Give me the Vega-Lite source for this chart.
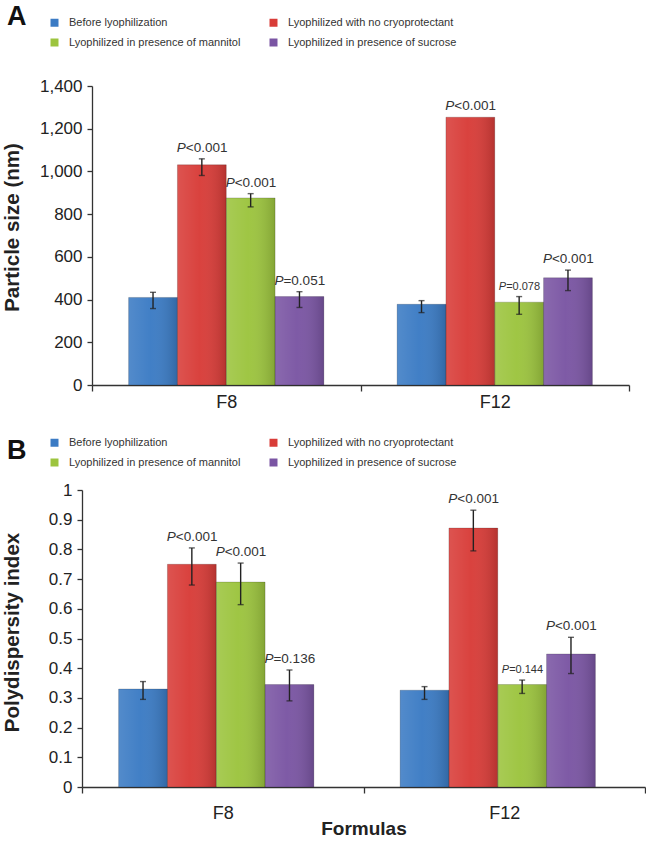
{
  "$schema": "https://vega.github.io/schema/vega-lite/v6.json",
  "padding": {"left": 2, "top": 3, "right": 0, "bottom": 0},
  "columns": 1,
  "spacing": 26,
  "config": {
    "font": "Liberation Sans",
    "view": {"stroke": null},
    "axis": {"domainColor": "#333", "tickColor": "#333", "labelColor": "#222", "titleColor": "#222", "grid": false, "domainWidth": 1.3, "tickWidth": 1.3},
    "legend": {"orient": "none", "columns": 2, "title": null, "symbolType": "square", "symbolSize": 64, "symbolStrokeWidth": 0, "labelFontSize": 11, "labelColor": "#333", "labelLimit": 400, "columnPadding": 27, "rowPadding": 8, "labelOffset": 9, "padding": 0}
  },
  "resolve": {"scale": {"color": "independent"}},
  "datasets": {
    "size": [
      {"formula": "F8", "group": "Before lyophilization", "value": 410, "lo": 358, "hi": 434, "label": null},
      {"formula": "F8", "group": "Lyophilized with no cryoprotectant", "value": 1031, "lo": 981, "hi": 1059, "label": "<0.001"},
      {"formula": "F8", "group": "Lyophilized in presence of mannitol", "value": 876, "lo": 834, "hi": 896, "label": "<0.001"},
      {"formula": "F8", "group": "Lyophilized in presence of sucrose", "value": 414, "lo": 363, "hi": 437, "label": "=0.051"},
      {"formula": "F12", "group": "Before lyophilization", "value": 378, "lo": 339, "hi": 395, "label": null},
      {"formula": "F12", "group": "Lyophilized with no cryoprotectant", "value": 1254, "lo": null, "hi": null, "label": "<0.001"},
      {"formula": "F12", "group": "Lyophilized in presence of mannitol", "value": 388, "lo": 331, "hi": 414, "label": "=0.078"},
      {"formula": "F12", "group": "Lyophilized in presence of sucrose", "value": 502, "lo": 442, "hi": 538, "label": "<0.001"}
    ],
    "pdi": [
      {"formula": "F8", "group": "Before lyophilization", "value": 0.33, "lo": 0.295, "hi": 0.355, "label": null},
      {"formula": "F8", "group": "Lyophilized with no cryoprotectant", "value": 0.75, "lo": 0.68, "hi": 0.805, "label": "<0.001"},
      {"formula": "F8", "group": "Lyophilized in presence of mannitol", "value": 0.69, "lo": 0.614, "hi": 0.754, "label": "<0.001"},
      {"formula": "F8", "group": "Lyophilized in presence of sucrose", "value": 0.345, "lo": 0.29, "hi": 0.394, "label": "=0.136"},
      {"formula": "F12", "group": "Before lyophilization", "value": 0.326, "lo": 0.295, "hi": 0.338, "label": null},
      {"formula": "F12", "group": "Lyophilized with no cryoprotectant", "value": 0.872, "lo": 0.795, "hi": 0.932, "label": "<0.001"},
      {"formula": "F12", "group": "Lyophilized in presence of mannitol", "value": 0.345, "lo": 0.315, "hi": 0.36, "label": "=0.144"},
      {"formula": "F12", "group": "Lyophilized in presence of sucrose", "value": 0.448, "lo": 0.382, "hi": 0.504, "label": "<0.001"}
    ]
  },
  "concat": [
    {
      "title": {"text": "A", "fontSize": 27, "fontWeight": "bold", "anchor": "start", "frame": "group", "dx": -75, "dy": 18, "color": "#111"},
      "width": 547,
      "height": 299,
      "data": {"name": "size"},
      "transform": [{"calculate": "isValid(datum.hi) ? datum.hi : datum.value", "as": "labY"}],
      "encoding": {
        "x": {"field": "formula", "type": "nominal", "sort": ["F8", "F12"], "scale": {"range": [10, 547], "paddingInner": 0, "paddingOuter": 0},
          "axis": {"title": null, "labelAngle": 0, "labelFontSize": 18, "tickBand": "extent", "tickSize": 6, "labelPadding": 2}},
        "xOffset": {"field": "group", "type": "nominal", "sort": ["Before lyophilization", "Lyophilized with no cryoprotectant", "Lyophilized in presence of mannitol", "Lyophilized in presence of sucrose"], "scale": {"paddingInner": 0, "paddingOuter": 0.75}}
      },
      "layer": [
        {
          "mark": {"type": "bar"},
          "encoding": {
            "y": {"field": "value", "type": "quantitative", "title": "Particle size (nm)", "scale": {"domain": [0, 1400], "nice": false},
              "axis": {"values": [0, 200, 400, 600, 800, 1000, 1200, 1400], "format": ",d", "offset": -10, "labelFontSize": 17, "tickSize": 5, "labelPadding": 5, "titleFontSize": 20.5, "titleFontWeight": "bold", "titleX": -80, "titleY": 141, "titleBaseline": "middle"}},
            "color": {"field": "group", "type": "nominal",
              "scale": {"domain": ["Before lyophilization", "Lyophilized in presence of mannitol", "Lyophilized with no cryoprotectant", "Lyophilized in presence of sucrose"], "range": ["#3B7BC4", "#9CC43E", "#D83C38", "#7A55A3"]},
              "legend": {"legendX": -33, "legendY": -69}}
          }
        },
        {
          "mark": {"type": "bar", "fill": {"gradient": "linear", "x1": 0, "x2": 1, "y1": 0, "y2": 0, "stops": [{"offset": 0, "color": "rgba(255,255,255,0.12)"}, {"offset": 0.45, "color": "rgba(255,255,255,0.03)"}, {"offset": 1, "color": "rgba(0,0,0,0.16)"}]}, "stroke": "rgba(0,0,0,0.25)", "strokeWidth": 0.7},
          "encoding": {"y": {"field": "value", "type": "quantitative", "title": "Particle size (nm)",
              "axis": {"values": [0, 200, 400, 600, 800, 1000, 1200, 1400], "format": ",d", "offset": -10, "labelFontSize": 17, "tickSize": 5, "labelPadding": 5, "titleFontSize": 20.5, "titleFontWeight": "bold", "titleX": -80, "titleY": 141, "titleBaseline": "middle"}}}
        },
        {
          "transform": [{"filter": "isValid(datum.lo)"}],
          "mark": {"type": "rule", "color": "#222", "strokeWidth": 1.4},
          "encoding": {"y": {"field": "lo", "type": "quantitative", "title": "Particle size (nm)",
              "axis": {"values": [0, 200, 400, 600, 800, 1000, 1200, 1400], "format": ",d", "offset": -10, "labelFontSize": 17, "tickSize": 5, "labelPadding": 5, "titleFontSize": 20.5, "titleFontWeight": "bold", "titleX": -80, "titleY": 141, "titleBaseline": "middle"}}, "y2": {"field": "hi"}}
        },
        {
          "transform": [{"filter": "isValid(datum.lo)"}],
          "mark": {"type": "tick", "color": "#222", "size": 6, "thickness": 1.4, "orient": "horizontal"},
          "encoding": {"y": {"field": "lo", "type": "quantitative", "title": "Particle size (nm)",
              "axis": {"values": [0, 200, 400, 600, 800, 1000, 1200, 1400], "format": ",d", "offset": -10, "labelFontSize": 17, "tickSize": 5, "labelPadding": 5, "titleFontSize": 20.5, "titleFontWeight": "bold", "titleX": -80, "titleY": 141, "titleBaseline": "middle"}}}
        },
        {
          "transform": [{"filter": "isValid(datum.lo)"}],
          "mark": {"type": "tick", "color": "#222", "size": 6, "thickness": 1.4, "orient": "horizontal"},
          "encoding": {"y": {"field": "hi", "type": "quantitative", "title": "Particle size (nm)",
              "axis": {"values": [0, 200, 400, 600, 800, 1000, 1200, 1400], "format": ",d", "offset": -10, "labelFontSize": 17, "tickSize": 5, "labelPadding": 5, "titleFontSize": 20.5, "titleFontWeight": "bold", "titleX": -80, "titleY": 141, "titleBaseline": "middle"}}}
        },
        {
          "transform": [{"filter": "isValid(datum.label) && !(datum.formula == 'F12' && datum.group == 'Lyophilized in presence of mannitol')"}],
          "mark": {"type": "text", "fontSize": 13.5, "fontStyle": "italic", "align": "right", "dx": -16, "dy": -7, "baseline": "alphabetic", "color": "#333"},
          "encoding": {"y": {"field": "labY", "type": "quantitative", "title": "Particle size (nm)",
              "axis": {"values": [0, 200, 400, 600, 800, 1000, 1200, 1400], "format": ",d", "offset": -10, "labelFontSize": 17, "tickSize": 5, "labelPadding": 5, "titleFontSize": 20.5, "titleFontWeight": "bold", "titleX": -80, "titleY": 141, "titleBaseline": "middle"}}, "text": {"value": "P"}}
        },
        {
          "transform": [{"filter": "isValid(datum.label) && !(datum.formula == 'F12' && datum.group == 'Lyophilized in presence of mannitol')"}],
          "mark": {"type": "text", "fontSize": 13.5, "align": "left", "dx": -16, "dy": -7, "baseline": "alphabetic", "color": "#333"},
          "encoding": {"y": {"field": "labY", "type": "quantitative", "title": "Particle size (nm)",
              "axis": {"values": [0, 200, 400, 600, 800, 1000, 1200, 1400], "format": ",d", "offset": -10, "labelFontSize": 17, "tickSize": 5, "labelPadding": 5, "titleFontSize": 20.5, "titleFontWeight": "bold", "titleX": -80, "titleY": 141, "titleBaseline": "middle"}}, "text": {"field": "label"}}
        },
        {
          "transform": [{"filter": "datum.formula == 'F12' && datum.group == 'Lyophilized in presence of mannitol'"}],
          "mark": {"type": "text", "fontSize": 11, "fontStyle": "italic", "align": "right", "dx": -13, "dy": -7, "baseline": "alphabetic", "color": "#333"},
          "encoding": {"y": {"field": "labY", "type": "quantitative", "title": "Particle size (nm)",
              "axis": {"values": [0, 200, 400, 600, 800, 1000, 1200, 1400], "format": ",d", "offset": -10, "labelFontSize": 17, "tickSize": 5, "labelPadding": 5, "titleFontSize": 20.5, "titleFontWeight": "bold", "titleX": -80, "titleY": 141, "titleBaseline": "middle"}}, "text": {"value": "P"}}
        },
        {
          "transform": [{"filter": "datum.formula == 'F12' && datum.group == 'Lyophilized in presence of mannitol'"}],
          "mark": {"type": "text", "fontSize": 11, "align": "left", "dx": -13, "dy": -7, "baseline": "alphabetic", "color": "#333"},
          "encoding": {"y": {"field": "labY", "type": "quantitative", "title": "Particle size (nm)",
              "axis": {"values": [0, 200, 400, 600, 800, 1000, 1200, 1400], "format": ",d", "offset": -10, "labelFontSize": 17, "tickSize": 5, "labelPadding": 5, "titleFontSize": 20.5, "titleFontWeight": "bold", "titleX": -80, "titleY": 141, "titleBaseline": "middle"}}, "text": {"field": "label"}}
        }
      ]
    },
    {
      "title": {"text": "B", "fontSize": 27, "fontWeight": "bold", "anchor": "start", "frame": "group", "dx": -75, "dy": 32, "color": "#111"},
      "width": 563,
      "height": 297,
      "data": {"name": "pdi"},
      "transform": [{"calculate": "isValid(datum.hi) ? datum.hi : datum.value", "as": "labY"}],
      "encoding": {
        "x": {"field": "formula", "type": "nominal", "sort": ["F8", "F12"], "scale": {"paddingInner": 0, "paddingOuter": 0},
          "axis": {"title": "Formulas", "titleFontSize": 19, "titleFontWeight": "bold", "titlePadding": -3, "labelAngle": 0, "labelFontSize": 18, "tickBand": "extent", "tickSize": 6, "labelPadding": 11}},
        "xOffset": {"field": "group", "type": "nominal", "sort": ["Before lyophilization", "Lyophilized with no cryoprotectant", "Lyophilized in presence of mannitol", "Lyophilized in presence of sucrose"], "scale": {"paddingInner": 0, "paddingOuter": 0.75}}
      },
      "layer": [
        {
          "mark": {"type": "bar"},
          "encoding": {
            "y": {"field": "value", "type": "quantitative", "title": "Polydispersity index", "scale": {"domain": [0, 1], "nice": false},
              "axis": {"values": [0, 0.1, 0.2, 0.3, 0.4, 0.5, 0.6, 0.7, 0.8, 0.9, 1], "format": "~g", "labelFontSize": 17, "tickSize": 5, "labelPadding": 5, "titleFontSize": 20.5, "titleFontWeight": "bold", "titleX": -70, "titleY": 142, "titleBaseline": "middle"}},
            "color": {"field": "group", "type": "nominal",
              "scale": {"domain": ["Before lyophilization", "Lyophilized in presence of mannitol", "Lyophilized with no cryoprotectant", "Lyophilized in presence of sucrose"], "range": ["#3B7BC4", "#9CC43E", "#D83C38", "#7A55A3"]},
              "legend": {"legendX": -33, "legendY": -53}}
          }
        },
        {
          "mark": {"type": "bar", "fill": {"gradient": "linear", "x1": 0, "x2": 1, "y1": 0, "y2": 0, "stops": [{"offset": 0, "color": "rgba(255,255,255,0.12)"}, {"offset": 0.45, "color": "rgba(255,255,255,0.03)"}, {"offset": 1, "color": "rgba(0,0,0,0.16)"}]}, "stroke": "rgba(0,0,0,0.25)", "strokeWidth": 0.7},
          "encoding": {"y": {"field": "value", "type": "quantitative", "title": "Polydispersity index",
              "axis": {"values": [0, 0.1, 0.2, 0.3, 0.4, 0.5, 0.6, 0.7, 0.8, 0.9, 1], "format": "~g", "labelFontSize": 17, "tickSize": 5, "labelPadding": 5, "titleFontSize": 20.5, "titleFontWeight": "bold", "titleX": -70, "titleY": 142, "titleBaseline": "middle"}}}
        },
        {
          "transform": [{"filter": "isValid(datum.lo)"}],
          "mark": {"type": "rule", "color": "#222", "strokeWidth": 1.4},
          "encoding": {"y": {"field": "lo", "type": "quantitative", "title": "Polydispersity index",
              "axis": {"values": [0, 0.1, 0.2, 0.3, 0.4, 0.5, 0.6, 0.7, 0.8, 0.9, 1], "format": "~g", "labelFontSize": 17, "tickSize": 5, "labelPadding": 5, "titleFontSize": 20.5, "titleFontWeight": "bold", "titleX": -70, "titleY": 142, "titleBaseline": "middle"}}, "y2": {"field": "hi"}}
        },
        {
          "transform": [{"filter": "isValid(datum.lo)"}],
          "mark": {"type": "tick", "color": "#222", "size": 6, "thickness": 1.4, "orient": "horizontal"},
          "encoding": {"y": {"field": "lo", "type": "quantitative", "title": "Polydispersity index",
              "axis": {"values": [0, 0.1, 0.2, 0.3, 0.4, 0.5, 0.6, 0.7, 0.8, 0.9, 1], "format": "~g", "labelFontSize": 17, "tickSize": 5, "labelPadding": 5, "titleFontSize": 20.5, "titleFontWeight": "bold", "titleX": -70, "titleY": 142, "titleBaseline": "middle"}}}
        },
        {
          "transform": [{"filter": "isValid(datum.lo)"}],
          "mark": {"type": "tick", "color": "#222", "size": 6, "thickness": 1.4, "orient": "horizontal"},
          "encoding": {"y": {"field": "hi", "type": "quantitative", "title": "Polydispersity index",
              "axis": {"values": [0, 0.1, 0.2, 0.3, 0.4, 0.5, 0.6, 0.7, 0.8, 0.9, 1], "format": "~g", "labelFontSize": 17, "tickSize": 5, "labelPadding": 5, "titleFontSize": 20.5, "titleFontWeight": "bold", "titleX": -70, "titleY": 142, "titleBaseline": "middle"}}}
        },
        {
          "transform": [{"filter": "isValid(datum.label) && !(datum.formula == 'F12' && datum.group == 'Lyophilized in presence of mannitol')"}],
          "mark": {"type": "text", "fontSize": 13.5, "fontStyle": "italic", "align": "right", "dx": -16, "dy": -7, "baseline": "alphabetic", "color": "#333"},
          "encoding": {"y": {"field": "labY", "type": "quantitative", "title": "Polydispersity index",
              "axis": {"values": [0, 0.1, 0.2, 0.3, 0.4, 0.5, 0.6, 0.7, 0.8, 0.9, 1], "format": "~g", "labelFontSize": 17, "tickSize": 5, "labelPadding": 5, "titleFontSize": 20.5, "titleFontWeight": "bold", "titleX": -70, "titleY": 142, "titleBaseline": "middle"}}, "text": {"value": "P"}}
        },
        {
          "transform": [{"filter": "isValid(datum.label) && !(datum.formula == 'F12' && datum.group == 'Lyophilized in presence of mannitol')"}],
          "mark": {"type": "text", "fontSize": 13.5, "align": "left", "dx": -16, "dy": -7, "baseline": "alphabetic", "color": "#333"},
          "encoding": {"y": {"field": "labY", "type": "quantitative", "title": "Polydispersity index",
              "axis": {"values": [0, 0.1, 0.2, 0.3, 0.4, 0.5, 0.6, 0.7, 0.8, 0.9, 1], "format": "~g", "labelFontSize": 17, "tickSize": 5, "labelPadding": 5, "titleFontSize": 20.5, "titleFontWeight": "bold", "titleX": -70, "titleY": 142, "titleBaseline": "middle"}}, "text": {"field": "label"}}
        },
        {
          "transform": [{"filter": "datum.formula == 'F12' && datum.group == 'Lyophilized in presence of mannitol'"}],
          "mark": {"type": "text", "fontSize": 11, "fontStyle": "italic", "align": "right", "dx": -13, "dy": -7, "baseline": "alphabetic", "color": "#333"},
          "encoding": {"y": {"field": "labY", "type": "quantitative", "title": "Polydispersity index",
              "axis": {"values": [0, 0.1, 0.2, 0.3, 0.4, 0.5, 0.6, 0.7, 0.8, 0.9, 1], "format": "~g", "labelFontSize": 17, "tickSize": 5, "labelPadding": 5, "titleFontSize": 20.5, "titleFontWeight": "bold", "titleX": -70, "titleY": 142, "titleBaseline": "middle"}}, "text": {"value": "P"}}
        },
        {
          "transform": [{"filter": "datum.formula == 'F12' && datum.group == 'Lyophilized in presence of mannitol'"}],
          "mark": {"type": "text", "fontSize": 11, "align": "left", "dx": -13, "dy": -7, "baseline": "alphabetic", "color": "#333"},
          "encoding": {"y": {"field": "labY", "type": "quantitative", "title": "Polydispersity index",
              "axis": {"values": [0, 0.1, 0.2, 0.3, 0.4, 0.5, 0.6, 0.7, 0.8, 0.9, 1], "format": "~g", "labelFontSize": 17, "tickSize": 5, "labelPadding": 5, "titleFontSize": 20.5, "titleFontWeight": "bold", "titleX": -70, "titleY": 142, "titleBaseline": "middle"}}, "text": {"field": "label"}}
        }
      ]
    }
  ]
}
